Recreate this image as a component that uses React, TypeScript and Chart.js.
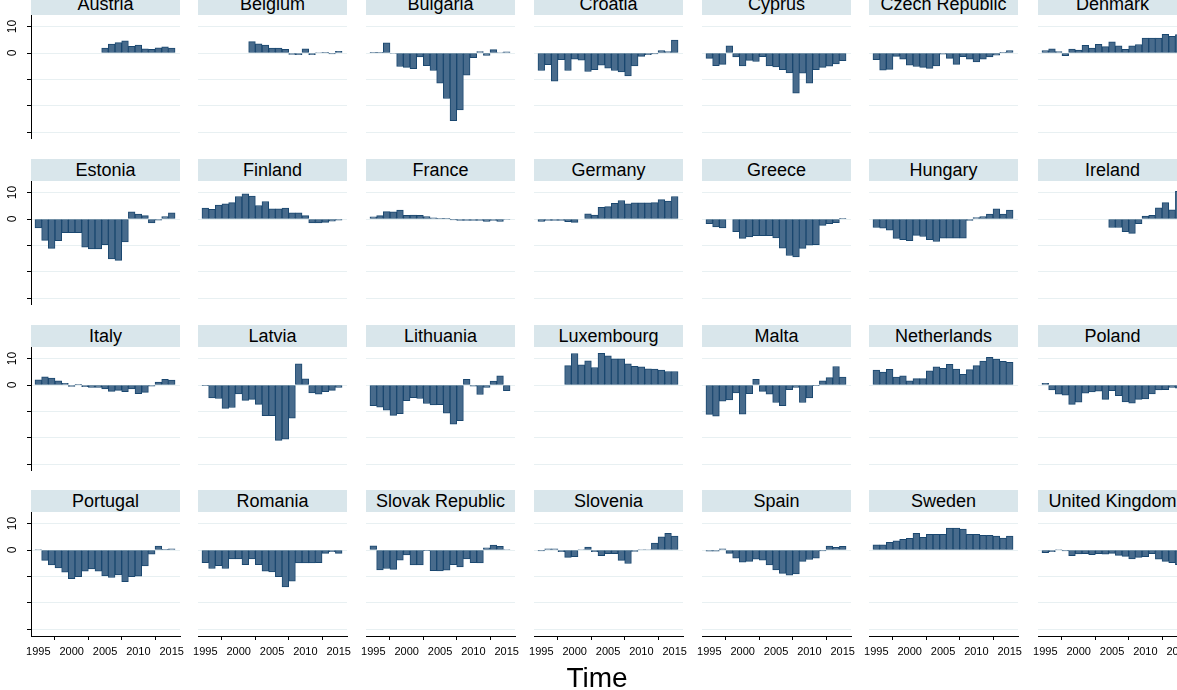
import React, { useEffect, useRef } from 'react';
import { Chart, registerables } from 'chart.js';

Chart.register(...registerables);

// ---------- data ----------
const years = [1995, 1996, 1997, 1998, 1999, 2000, 2001, 2002, 2003, 2004, 2005, 2006, 2007, 2008, 2009, 2010, 2011, 2012, 2013, 2014, 2015];
const xTickValues = [1995, 2000, 2005, 2010, 2015];
const yTickValues = [-30, -20, -10, 0, 10];
const yLabelValues = [10, 0];
const xAxisTitle = 'Time';

const countries = [
  'Austria', 'Belgium', 'Bulgaria', 'Croatia', 'Cyprus', 'Czech Republic', 'Denmark',
  'Estonia', 'Finland', 'France', 'Germany', 'Greece', 'Hungary', 'Ireland',
  'Italy', 'Latvia', 'Lithuania', 'Luxembourg', 'Malta', 'Netherlands', 'Poland',
  'Portugal', 'Romania', 'Slovak Republic', 'Slovenia', 'Spain', 'Sweden', 'United Kingdom',
];

const austria = [null, null, null, null, null, null, null, null, null, null, 1.9, 3.4, 3.9, 4.6, 2.5, 3.0, 1.6, 1.4, 2.0, 2.3, 1.9];
const belgium = [null, null, null, null, null, null, null, 4.3, 3.5, 3.0, 1.9, 1.9, 1.4, -0.5, -0.6, 1.6, -0.6, 0.2, 0.1, -0.3, 0.6];
const bulgaria = [0.1, 0.1, 3.8, -0.2, -5.1, -5.4, -5.9, -1.5, -4.8, -6.6, -11.4, -17.2, -25.6, -21.5, -8.4, -1.8, 0.5, -0.9, 1.3, 0.2, 0.4];
const croatia = [-6.6, -4.4, -10.6, -2.5, -6.6, -2.3, -2.7, -7.0, -6.3, -4.6, -5.7, -6.6, -7.1, -8.7, -4.9, -1.3, -0.6, -0.3, 0.9, 0.5, 4.9];
const cyprus = [-2.0, -4.8, -4.3, 2.7, -1.5, -4.9, -2.8, -3.2, -1.4, -4.9, -5.3, -6.3, -7.5, -15.2, -7.6, -11.4, -6.3, -5.4, -5.0, -4.1, -2.9];
const czechRepublic = [-2.5, -6.5, -6.2, -1.3, -2.3, -4.6, -5.1, -5.4, -5.8, -4.9, -0.4, -2.0, -4.3, -1.4, -2.3, -3.4, -2.3, -1.5, -0.8, 0.1, 0.9];
const denmark = [0.9, 1.6, 0.5, -1.0, 1.5, 1.1, 2.9, 1.9, 3.3, 2.4, 4.2, 2.7, 1.4, 2.7, 3.2, 5.6, 5.6, 5.6, 7.1, 6.3, 7.0];
const estonia = [-3.4, -8.1, -11.1, -8.2, -5.2, -5.2, -5.2, -10.6, -11.3, -11.3, -9.7, -15.1, -15.6, -8.7, 2.7, 1.9, 1.3, -1.5, -0.4, 0.9, 2.3];
const finland = [4.1, 3.7, 5.3, 5.7, 6.2, 8.5, 9.5, 8.7, 5.1, 6.6, 3.8, 3.8, 4.1, 2.3, 2.3, 1.3, -1.5, -1.5, -1.3, -0.8, -0.4];
const france = [0.8, 1.3, 2.8, 2.7, 3.4, 1.4, 1.5, 1.4, 0.9, 0.4, 0.3, 0.3, -0.3, -0.5, -0.5, -0.5, -0.5, -0.9, -0.5, -0.9, -0.2];
const germany = [-0.9, -0.5, -0.5, -0.5, -1.0, -1.3, 0.0, 2.0, 1.5, 4.4, 4.7, 5.9, 7.0, 5.7, 6.1, 6.1, 6.1, 6.2, 7.3, 6.8, 8.5];
const greece = [-1.8, -3.0, -3.4, null, -4.8, -7.3, -6.8, -6.3, -6.3, -6.3, -7.1, -11.0, -13.8, -14.3, -11.1, -9.9, -9.7, -2.4, -1.8, -1.4, 0.3];
const hungary = [-3.2, -3.5, -4.2, -7.3, -7.8, -8.2, -6.2, -6.6, -7.8, -8.5, -7.2, -7.2, -7.2, -7.2, -0.5, 0.5, 0.9, 1.9, 3.8, 1.9, 3.4];
const ireland = [null, null, null, null, null, null, null, null, null, null, -3.2, -3.2, -4.8, -5.4, -1.8, 1.1, 1.4, 4.2, 6.2, 3.5, 10.5];
const italy = [2.0, 3.1, 2.6, 1.6, 0.6, -0.5, 0.1, -0.6, -0.9, -0.9, -1.5, -2.4, -2.0, -2.5, -1.5, -3.3, -2.8, -0.4, 1.1, 2.1, 1.9];
const latvia = [-0.1, -4.9, -5.1, -8.8, -8.5, -3.4, -5.8, -5.4, -7.3, -11.6, -11.6, -20.9, -20.5, -12.5, 8.0, 2.3, -3.0, -3.5, -2.5, -2.0, -0.9];
const lithuania = [-7.8, -8.4, -9.5, -11.5, -10.8, -5.9, -4.8, -5.1, -7.0, -7.5, -7.4, -10.6, -14.8, -13.5, 2.1, -0.4, -3.6, -0.9, 1.5, 3.5, -2.1];
const luxembourg = [null, null, null, null, 7.3, 11.9, 7.6, 9.1, 6.6, 12.0, 11.0, 9.9, 9.9, 8.0, 7.1, 6.9, 6.1, 6.0, 5.6, 5.1, 5.1];
const malta = [-11.1, -11.8, -6.1, -5.6, -3.0, -11.0, -3.3, 2.1, -2.4, -3.5, -6.6, -7.8, -1.8, -0.9, -6.6, -4.9, -0.1, 1.6, 2.8, 7.0, 3.0];
const netherlands = [5.6, 4.9, 5.9, 3.0, 3.5, 1.6, 2.4, 2.4, 5.4, 6.9, 6.3, 7.8, 6.0, 4.0, 5.8, 7.3, 9.0, 10.5, 9.8, 8.9, 8.6];
const poland = [0.6, -1.9, -3.5, -3.8, -7.3, -6.5, -3.1, -2.6, -2.3, -5.4, -2.1, -4.0, -6.4, -6.9, -5.4, -5.3, -3.4, -1.9, -1.8, -0.9, -1.2];
const portugal = [0.2, -3.9, -5.6, -6.8, -8.4, -10.8, -10.1, -8.0, -7.1, -8.0, -9.8, -10.4, -9.4, -12.0, -10.1, -9.9, -6.0, -1.6, 1.5, 0.1, 0.4];
const romania = [-4.8, -7.0, -5.9, -7.0, -3.4, -3.4, -5.5, -3.4, -5.5, -8.0, -8.3, -10.1, -13.9, -11.8, -4.9, -4.9, -4.9, -4.8, -1.3, -0.6, -1.3];
const slovakRepublic = [1.6, -7.5, -7.0, -7.3, -3.8, -1.9, -5.6, -5.6, -0.1, -7.8, -7.9, -7.6, -5.5, -6.4, -3.4, -4.8, -4.9, 0.8, 1.9, 1.4, 0.2];
const slovenia = [-0.3, 0.4, 0.4, -0.6, -2.8, -2.5, 0.2, 1.1, -0.6, -2.1, -1.4, -1.4, -3.9, -5.1, -0.5, 0.2, 0.2, 2.6, 5.0, 6.3, 5.3];
const spain = [-0.4, -0.4, 0.4, -1.3, -3.1, -4.6, -4.3, -3.5, -3.8, -5.6, -7.5, -8.8, -9.5, -9.0, -4.3, -3.6, -3.1, -0.3, 1.5, 1.0, 1.4];
const sweden = [2.0, 2.0, 2.9, 3.5, 4.0, 4.4, 6.3, 4.8, 5.9, 5.9, 5.9, 8.3, 8.3, 7.9, 5.9, 5.9, 5.5, 5.5, 5.3, 4.5, 5.3];
const unitedKingdom = [-1.0, -0.6, 0.2, -0.3, -2.1, -1.5, -1.4, -1.8, -1.4, -1.6, -1.3, -2.0, -2.4, -3.4, -2.8, -2.5, -1.4, -3.5, -4.3, -4.8, -5.5];

const seriesList = [
  austria, belgium, bulgaria, croatia, cyprus, czechRepublic, denmark,
  estonia, finland, france, germany, greece, hungary, ireland,
  italy, latvia, lithuania, luxembourg, malta, netherlands, poland,
  portugal, romania, slovakRepublic, slovenia, spain, sweden, unitedKingdom,
];

// ---------- layout / style ----------
const FONT = '"Liberation Sans", Arial, Helvetica, sans-serif';
const COL_LEFT = [31, 198, 366, 534, 702, 869, 1038];
const ROW_TOP = [15, 181, 347, 512];
const PLOT_W = 149;
const PLOT_H = 124;
const STRIP_H = 22;
const Y_MIN = -32.49;
const Y_MAX = 14.36;
const X_MIN = 1993.905;
const X_MAX = 2016.24;
const SIDE = 16;
const X_AXIS_H = 30;
const Y_AXIS_W = 31;
const BAR_FILL = 'rgb(72,107,140)';
const BAR_LINE = 'rgb(26,71,111)';
const GRID = 'rgb(232,240,242)';
const STRIP_BG = 'rgb(217,230,235)';

type PanelProps = { name: string; values: (number | null)[]; row: number; col: number };

function Panel({ name, values, row, col }: PanelProps) {
  const ref = useRef<HTMLCanvasElement>(null);
  const isLeft = col === 0;
  const isBottom = row === 3;
  const leftExt = isLeft ? Y_AXIS_W : SIDE;
  const canvasW = leftExt + PLOT_W + SIDE;
  const canvasH = PLOT_H + (isBottom ? X_AXIS_H : 0);

  useEffect(() => {
    if (!ref.current) return;
    const chart = new Chart(ref.current, {
      type: 'bar',
      data: {
        datasets: [
          {
            data: years.map((y, i) => ({ x: y, y: values[i] })) as any,
            backgroundColor: BAR_FILL,
            borderColor: BAR_LINE,
            borderWidth: 1,
            borderSkipped: false,
            barPercentage: 1,
            categoryPercentage: 1,
          },
        ],
      },
      options: {
        responsive: false,
        animation: false,
        events: [],
        layout: { autoPadding: false, padding: { left: isLeft ? 0 : SIDE, right: SIDE, top: 0, bottom: 0 } },
        plugins: { legend: { display: false }, tooltip: { enabled: false }, title: { display: false } },
        scales: {
          x: {
            type: 'linear',
            min: X_MIN,
            max: X_MAX,
            display: isBottom,
            offset: false,
            afterBuildTicks: (s: any) => {
              s.ticks = xTickValues.map((v) => ({ value: v }));
            },
            afterFit: (s: any) => {
              if (isBottom) s.height = X_AXIS_H;
              s.paddingLeft = 0;
              s.paddingRight = 0;
            },
            grid: { display: true, drawOnChartArea: false, drawTicks: true, tickLength: 4, tickColor: '#000', lineWidth: 1 },
            border: { display: true, color: '#000', width: 1 },
            ticks: {
              autoSkip: false,
              maxRotation: 0,
              minRotation: 0,
              padding: 5,
              color: '#000',
              font: { family: FONT, size: 11 },
              callback: (v: any) => String(v),
            },
          },
          y: {
            type: 'linear',
            min: Y_MIN,
            max: Y_MAX,
            display: true,
            afterBuildTicks: (s: any) => {
              s.ticks = yTickValues.map((v) => ({ value: v }));
            },
            afterFit: (s: any) => {
              s.width = isLeft ? Y_AXIS_W : 0;
              s.paddingTop = 0;
              s.paddingBottom = 0;
            },
            grid: { color: GRID, lineWidth: 1, drawTicks: isLeft, tickLength: 4, tickColor: '#000' },
            border: { display: isLeft, color: '#000', width: 1 },
            ticks: {
              display: isLeft,
              minRotation: 90,
              maxRotation: 90,
              crossAlign: 'center',
              padding: 8,
              color: '#000',
              font: { family: FONT, size: 12 },
              callback: (v: any) => (yLabelValues.includes(Number(v)) ? String(v) : ''),
            },
          },
        },
      } as any,
    });
    return () => chart.destroy();
  }, []);

  return (
    <>
      <div
        style={{
          position: 'absolute',
          left: COL_LEFT[col],
          top: ROW_TOP[row] - STRIP_H,
          width: PLOT_W,
          height: STRIP_H,
          background: STRIP_BG,
          color: '#000',
          fontFamily: FONT,
          fontSize: 18,
          lineHeight: `${STRIP_H}px`,
          textAlign: 'center',
          whiteSpace: 'nowrap',
        }}
      >
        {name}
      </div>
      <canvas
        ref={ref}
        width={canvasW}
        height={canvasH}
        style={{
          position: 'absolute',
          left: COL_LEFT[col] - leftExt,
          top: ROW_TOP[row],
          width: canvasW,
          height: canvasH,
        }}
      />
    </>
  );
}

export default function App() {
  return (
    <div
      style={{
        position: 'absolute',
        left: 0,
        top: 0,
        width: 1177,
        height: 690,
        overflow: 'hidden',
        background: '#fff',
      }}
    >
      {countries.map((name, i) => (
        <Panel key={name} name={name} values={seriesList[i]} row={Math.floor(i / 7)} col={i % 7} />
      ))}
      <div
        style={{
          position: 'absolute',
          left: 497,
          width: 200,
          top: 664,
          textAlign: 'center',
          fontFamily: FONT,
          fontSize: 28,
          lineHeight: '28px',
          color: '#000',
        }}
      >
        {xAxisTitle}
      </div>
    </div>
  );
}
